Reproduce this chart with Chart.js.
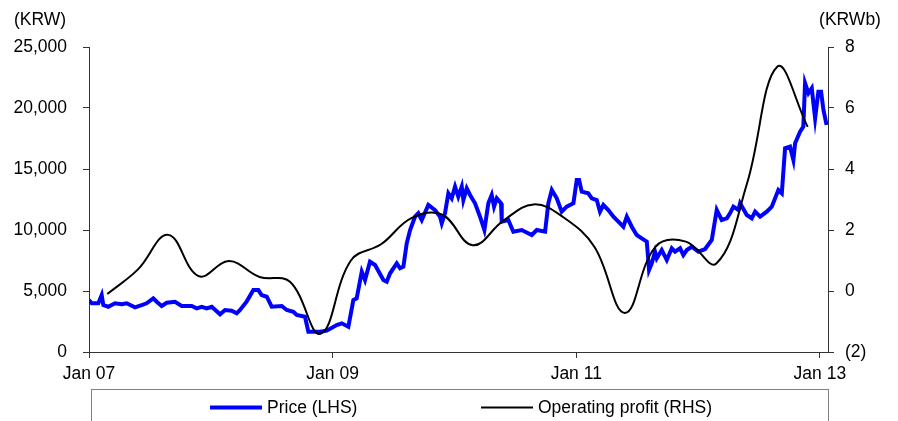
<!DOCTYPE html>
<html>
<head>
<meta charset="utf-8">
<script src="https://cdn.jsdelivr.net/npm/chart.js@4.4.1/dist/chart.umd.min.js"></script>
<style>
  html, body { margin: 0; padding: 0; background: #fff; }
  #wrap { width: 898px; height: 421px; }
</style>
</head>
<body>
<div id="wrap"><canvas id="chart" width="898" height="421"></canvas></div>
<script>
// x positions are months since Jan 2007
const xTickMonths = [0, 24, 48, 72];
const xTickLabels = ['Jan 07', 'Jan 09', 'Jan 11', 'Jan 13'];

const priceMonths = [
  0, 0.27, 0.92, 1.25, 1.41, 1.9, 2.56, 3.22, 3.71, 4.53, 5.19, 5.68, 6.33, 6.67, 7.16, 7.66,
  8.47, 9.13, 10.12, 10.61, 11.1, 11.6, 12.09, 12.91, 13.4, 14.06, 14.55, 14.88, 15.54, 16.19,
  16.68, 17.01, 17.51, 18.0, 18.99, 19.48, 20.13, 20.46, 21.28, 21.61, 22.76, 23.42, 24.4, 24.9,
  25.55, 26.04, 26.37, 26.87, 27.19, 27.68, 28.18, 29.0, 29.33, 29.66, 30.32, 30.64, 30.97, 31.3,
  31.63, 32.12, 32.44, 32.78, 33.43, 34.09, 34.58, 34.75, 35.07, 35.4, 35.73, 36.06, 36.38, 36.72,
  36.88, 37.21, 37.54, 38.03, 38.52, 38.95, 39.34, 39.67, 39.9, 40.17, 40.59, 40.66, 41.31, 41.8,
  42.63, 42.96, 43.62, 44.11, 44.93, 45.25, 45.59, 46.08, 46.57, 47.06, 47.72, 48.05, 48.28, 48.54,
  49.19, 49.53, 50.02, 50.34, 50.67, 51.16, 51.66, 52.15, 52.64, 52.98, 53.47, 53.96, 54.45, 54.95,
  55.17, 55.44, 55.76, 55.93, 56.42, 56.92, 57.41, 57.73, 58.23, 58.55, 58.89, 59.38, 60.03, 60.69,
  61.35, 61.84, 62.33, 62.83, 63.15, 63.48, 63.97, 64.14, 64.8, 65.29, 65.62, 66.11, 66.77, 67.26,
  67.59, 67.91, 68.25, 68.57, 69.06, 69.39, 69.56, 70.05, 70.37, 70.54, 70.87, 71.2, 71.53, 71.85,
  72.12, 72.35, 72.66
];
const priceValues = [
  4260, 4000, 3990, 4670, 3850, 3710, 3990, 3910, 3990, 3660, 3850, 3990, 4400, 4120, 3770, 4040,
  4120, 3770, 3770, 3580, 3710, 3580, 3710, 3090, 3440, 3390, 3170, 3440, 4150, 5080,
  5080, 4670, 4530, 3710, 3770, 3440, 3300, 3030, 2890, 1660, 1660, 1750, 2210, 2350,
  2070, 4260, 4400, 6580, 5900, 7400, 7130, 5900, 5760, 6450, 7270, 6860, 6990, 8910,
  10000, 11090, 11370, 10820, 12050, 11630, 11090, 10550, 11370, 13010, 12600, 13550, 12730, 13550,
  12460, 13420, 12870, 12190, 11090, 10000, 12190, 12870, 11910, 12600, 12190, 10680, 10820, 9860,
  10000, 9860, 9590, 10000, 9860, 12190, 13280, 12600, 11500, 11910, 12190, 14100, 14100, 13140,
  13010, 12600, 12460, 11500, 12050, 11630, 11090, 10680, 10270, 11090, 10270, 9590, 9320, 9040,
  6720, 7270, 8220, 7680, 8360, 7540, 8500, 8220, 8500, 7950, 8360, 8630, 8220, 8440,
  9180, 11640, 10820, 10960, 11370, 11910, 11640, 12190, 11230, 10960, 11500, 11090, 11500, 11910,
  12600, 13280, 13010, 16700, 16830, 15740, 17110, 18060, 18470, 22030, 21210, 21620, 19160, 21340,
  21340, 19840, 18610
];

const profitMonths = [
  1.8, 4.8, 7.8, 10.8, 13.8, 16.8, 19.8, 22.8, 25.8, 28.8, 31.8, 34.8,
  37.8, 40.8, 43.8, 46.8, 49.8, 52.8, 55.8, 58.8, 61.8, 64.8, 67.8, 70.8
];
const profitValues = [
  -0.1, 0.7, 1.84, 0.49, 0.98, 0.46, 0.3, -1.4, 1.0, 1.54, 2.4, 2.5,
  1.5, 2.3, 2.84, 2.4, 1.44, -0.72, 1.45, 1.62, 0.9, 3.5, 7.35, 5.38
];

const FONT = '17.5px "Liberation Sans", Arial, sans-serif';
const AXIS_COLOR = '#333';

const toPoints = (xs, ys) => xs.map((x, i) => ({ x: x, y: ys[i] }));

// unit captions above both axes plus the boxed legend under the x axis
const decorations = {
  id: 'decorations',
  afterDraw(chart) {
    const ctx = chart.ctx;
    const area = chart.chartArea;
    ctx.save();
    ctx.font = FONT;
    ctx.fillStyle = '#000';
    ctx.textBaseline = 'middle';
    ctx.textAlign = 'center';
    ctx.fillText('(KRW)', 40, 20);
    ctx.fillText('(KRWb)', 850, 20);

    ctx.strokeStyle = '#808080';
    ctx.lineWidth = 1;
    ctx.strokeRect(area.left + 2.5, 389.5, area.right - area.left - 2, 60);

    const slots = [210, 481];
    chart.data.datasets.forEach((ds, i) => {
      const x = slots[ds.legendSlot];
      const y = 407.5;
      ctx.strokeStyle = ds.borderColor;
      ctx.lineWidth = ds.borderWidth;
      ctx.beginPath();
      ctx.moveTo(x, y);
      ctx.lineTo(x + 52, y);
      ctx.stroke();
      ctx.textAlign = 'left';
      ctx.fillStyle = '#000';
      ctx.fillText(ds.label, x + 57, y + 1);
    });
    ctx.restore();
  }
};

new Chart(document.getElementById('chart').getContext('2d'), {
  type: 'line',
  data: {
    datasets: [
      {
        label: 'Price (LHS)',
        data: toPoints(priceMonths, priceValues),
        borderColor: '#0000ff',
        borderWidth: 4,
        pointRadius: 0,
        tension: 0,
        yAxisID: 'y',
        order: 1,
        legendSlot: 0
      },
      {
        label: 'Operating profit (RHS)',
        data: toPoints(profitMonths, profitValues),
        borderColor: '#000000',
        borderWidth: 2,
        pointRadius: 0,
        tension: 0.4,
        yAxisID: 'y2',
        order: 0,
        legendSlot: 1
      }
    ]
  },
  options: {
    responsive: false,
    animation: false,
    layout: { padding: { top: 47, left: 0, right: 0, bottom: 0 } },
    plugins: {
      legend: { display: false },
      tooltip: { enabled: false }
    },
    scales: {
      x: {
        type: 'linear',
        min: 0,
        max: 72.8,
        afterBuildTicks: (s) => { s.ticks = xTickMonths.map(v => ({ value: v })); },
        afterFit: (s) => { s.height = 69; },
        border: { color: AXIS_COLOR, width: 1 },
        grid: { drawOnChartArea: false, tickLength: 6, color: AXIS_COLOR },
        ticks: {
          autoSkip: false,
          maxRotation: 0,
          padding: 6,
          color: '#000',
          font: { family: '"Liberation Sans", Arial, sans-serif', size: 17.5 },
          callback: (v) => xTickLabels[xTickMonths.indexOf(v)]
        }
      },
      y: {
        position: 'left',
        min: 0,
        max: 25000,
        afterFit: (s) => { s.width = 89; },
        border: { color: AXIS_COLOR, width: 1 },
        grid: { drawOnChartArea: false, tickLength: 6, color: AXIS_COLOR },
        ticks: {
          stepSize: 5000,
          padding: 16,
          color: '#000',
          font: { family: '"Liberation Sans", Arial, sans-serif', size: 17.5 },
          callback: (v) => v.toLocaleString('en-US')
        }
      },
      y2: {
        position: 'right',
        min: -2,
        max: 8,
        afterFit: (s) => { s.width = 70; },
        border: { color: AXIS_COLOR, width: 1 },
        grid: { drawOnChartArea: false, tickLength: 6, color: AXIS_COLOR },
        ticks: {
          stepSize: 2,
          padding: 11,
          color: '#000',
          font: { family: '"Liberation Sans", Arial, sans-serif', size: 17.5 },
          callback: (v) => (v < 0 ? '(' + (-v) + ')' : String(v))
        }
      }
    }
  },
  plugins: [decorations]
});
</script>
</body>
</html>
